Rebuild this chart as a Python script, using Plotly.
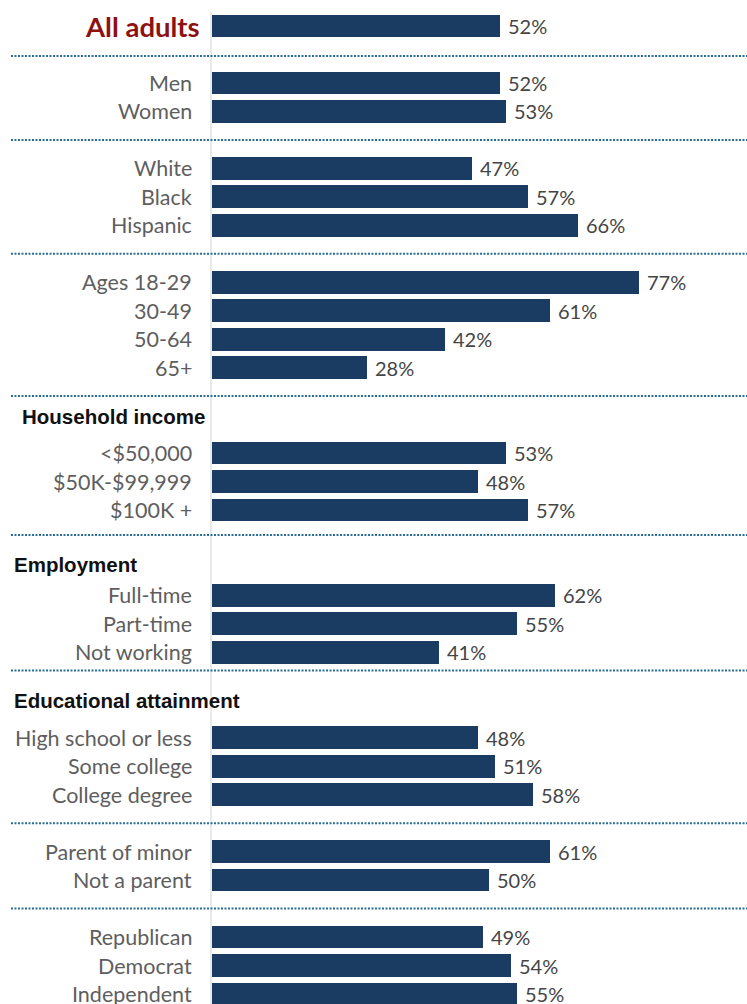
import plotly.graph_objects as go

# Survey share by demographic group (percent)
categories = [
    "All adults",
    "Men", "Women",
    "White", "Black", "Hispanic",
    "Ages 18-29", "30-49", "50-64", "65+",
    "<$50,000", "$50K-$99,999", "$100K +",
    "Full-time", "Part-time", "Not working",
    "High school or less", "Some college", "College degree",
    "Parent of minor", "Not a parent",
    "Republican", "Democrat", "Independent",
]
values = [
    52,
    52, 53,
    47, 57, 66,
    77, 61, 42, 28,
    53, 48, 57,
    62, 55, 41,
    48, 51, 58,
    61, 50,
    49, 54, 55,
]
group_sizes = [1, 2, 3, 4, 3, 3, 3, 2, 3]
group_headers = [None, None, None, None, "Household income", "Employment",
                 "Educational attainment", None, None]

# ---- row layout: each group is preceded by a separator row and,
# optionally, a header row
BAR_COLOR = "#1b3c62"
SEP_COLOR = "#2a6e96"
LABEL_COLOR = "#5e5e5e"
VALUE_COLOR = "#454545"
TITLE_COLOR = "#8e1111"
W, H = 747, 1004
LEFT = 212
PLOT_W = W - LEFT
PX_PER_PCT = 5.54
ROW_PX = 28.47
FIRST_ROW_PX = 26

row_pos, sep_pos, header_pos = [], [], []
slot = 0
for g, (n, head) in enumerate(zip(group_sizes, group_headers)):
    if g > 0:
        sep_pos.append(slot)
        slot += 1
        if head:
            header_pos.append((head, slot))
            slot += 1
    for _ in range(n):
        row_pos.append(slot)
        slot += 1

# small hand nudges of separators / headers (row units) and header indents (px)
SEP_NUDGE = {0: 0.05, 4: -0.12, 5: -0.36}
HEADER_NUDGE = [-0.27, -0.07, -0.32]
HEADER_LEFT_PX = [20, 12, 12]

y_top = -FIRST_ROW_PX / ROW_PX
y_bottom = y_top + H / ROW_PX

fig = go.Figure()
fig.add_trace(go.Bar(
    x=values, y=row_pos, orientation="h", width=0.8,
    marker=dict(color=BAR_COLOR, line=dict(width=0)),
    hoverinfo="skip", showlegend=False,
))

annotations = []
for i, (cat, v, y) in enumerate(zip(categories, values, row_pos)):
    if i == 0:
        annotations.append(dict(
            x=0, y=y, xref="x", yref="y", text=f"<b>{cat}</b>",
            xanchor="right", yanchor="middle", xshift=-10, showarrow=False,
            font=dict(family="Lato", size=27.5, color=TITLE_COLOR)))
    else:
        annotations.append(dict(
            x=0, y=y, xref="x", yref="y", text=cat,
            xanchor="right", yanchor="middle", xshift=-18, showarrow=False,
            font=dict(family="Lato", size=21.5, color=LABEL_COLOR)))
    annotations.append(dict(
        x=v, y=y, xref="x", yref="y", text=f"{v}%",
        xanchor="left", yanchor="middle", xshift=6, showarrow=False,
        font=dict(family="Lato", size=20, color=VALUE_COLOR)))

for j, (head, y) in enumerate(header_pos):
    annotations.append(dict(
        x=(HEADER_LEFT_PX[j] - LEFT) / PLOT_W, y=y + HEADER_NUDGE[j],
        xref="paper", yref="y",
        text=f"<b>{head}</b>", xanchor="left", yanchor="middle",
        showarrow=False,
        font=dict(family="Liberation Sans", size=20.5, color="#111111")))

# thin vertical baseline just left of the bars
shapes = [dict(
    type="line", xref="paper", yref="paper", x0=-1 / PLOT_W, x1=-1 / PLOT_W,
    y0=0, y1=1 - 12 / H, line=dict(color="#d4d4d4", width=1), layer="below")]
for k, s in enumerate(sep_pos):
    yv = s + SEP_NUDGE.get(k, 0.0)
    shapes.append(dict(
        type="line", xref="paper", yref="y",
        x0=(11 - LEFT) / PLOT_W, x1=1, y0=yv, y1=yv,
        line=dict(color=SEP_COLOR, width=2, dash="2px,1.5px")))

fig.update_layout(
    width=W, height=H,
    margin=dict(l=LEFT, r=0, t=0, b=0),
    paper_bgcolor="white", plot_bgcolor="white",
    xaxis=dict(range=[0, PLOT_W / PX_PER_PCT], visible=False, fixedrange=True),
    yaxis=dict(range=[y_bottom, y_top], visible=False, fixedrange=True),
    bargap=0,
    annotations=annotations,
    shapes=shapes,
)

fig.write_html("out.html")
